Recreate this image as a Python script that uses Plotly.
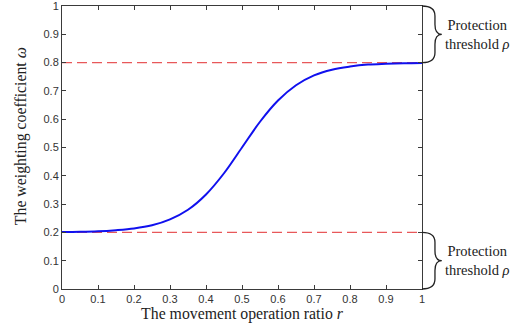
import plotly.graph_objects as go

# Movement operation ratio r and the weighting coefficient ω
ratio = [0.0, 0.05, 0.1, 0.15, 0.2, 0.25, 0.3, 0.35, 0.4, 0.45, 0.5,
         0.55, 0.6, 0.65, 0.7, 0.75, 0.8, 0.85, 0.9, 0.95, 1.0]
weight = [0.201, 0.202, 0.204, 0.208, 0.214, 0.225, 0.246, 0.28, 0.334, 0.409, 0.5,
          0.591, 0.666, 0.72, 0.755, 0.775, 0.786, 0.793, 0.796, 0.798, 0.799]

# Protection thresholds
lower_threshold = 0.2
upper_threshold = 0.8

x_ticks = [0, 0.1, 0.2, 0.3, 0.4, 0.5, 0.6, 0.7, 0.8, 0.9, 1]
y_ticks = [0, 0.1, 0.2, 0.3, 0.4, 0.5, 0.6, 0.7, 0.8, 0.9, 1]

serif = "'Liberation Serif', 'Times New Roman', serif"
sans = "'Liberation Sans', Arial, sans-serif"
axis_col = "#3a3a3a"

fig = go.Figure()

for level in (upper_threshold, lower_threshold):
    fig.add_trace(go.Scatter(
        x=[0, 1], y=[level, level], mode="lines",
        line=dict(color="#e8585a", width=1.3, dash="10px,5px"),
        hoverinfo="skip", showlegend=False))

fig.add_trace(go.Scatter(
    x=ratio, y=weight, mode="lines", line_shape="spline",
    line=dict(color="#1010ee", width=2), showlegend=False))

# Curly braces marking the protected bands, in paper coordinates
def brace(y0, y1):
    ym = (y0 + y1) / 2
    x0, xv, xt = 1.0, 1.036, 1.055
    r = 0.035
    return (f"M {x0},{y1} Q {xv},{y1} {xv},{y1 - r} "
            f"L {xv},{ym + r} Q {xv},{ym} {xt},{ym} "
            f"Q {xv},{ym} {xv},{ym - r} "
            f"L {xv},{y0 + r} Q {xv},{y0} {x0},{y0}")

shapes = []
labels = []
for lo, hi in ((upper_threshold, 1.0), (0.0, lower_threshold)):
    shapes.append(dict(type="path", xref="paper", yref="paper",
                       path=brace(lo, hi), line=dict(color="#222", width=1.3)))
    labels.append(dict(xref="paper", yref="paper", x=1.155, y=(lo + hi) / 2,
                       text="Protection<br>threshold <i>ρ</i>", showarrow=False,
                       align="center", xanchor="center", yanchor="middle",
                       font=dict(family=serif, size=14.5, color="#222")))

# Y-axis title placed as a rotated annotation
labels.append(dict(xref="paper", yref="paper", x=-0.114, y=0.54,
                   text="The weighting coefficient <i>ω</i>", textangle=-90,
                   showarrow=False, xanchor="center", yanchor="middle",
                   font=dict(family=serif, size=15.8, color="#222")))

axis_common = dict(
    showgrid=False, zeroline=False, showline=True, linecolor=axis_col, linewidth=1,
    mirror="ticks", ticks="inside", ticklen=4, tickcolor=axis_col,
    tickfont=dict(family=sans, size=11, color="#333"),
    range=[0, 1], automargin=False, ticklabeloverflow="allow",
)

fig.update_layout(
    width=529, height=330,
    margin=dict(l=62, r=107, t=6, b=41),
    paper_bgcolor="white", plot_bgcolor="white",
    xaxis=dict(**axis_common, tickvals=x_ticks,
               ticktext=[f"{v:g}" for v in x_ticks],
               title=dict(text="The movement operation ratio <i>r</i>",
                          font=dict(family=serif, size=15.8, color="#222"),
                          standoff=1)),
    yaxis=dict(**axis_common, tickvals=y_ticks,
               ticktext=[f"{v:g}" for v in y_ticks]),
    shapes=shapes,
    annotations=labels,
)

fig.write_html("out.html")
